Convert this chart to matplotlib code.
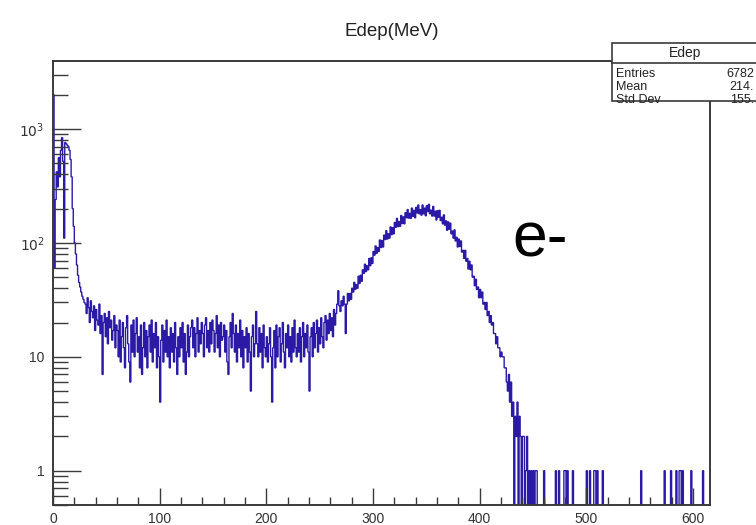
import numpy as np
import matplotlib
matplotlib.use('Agg')
from matplotlib import pyplot as plt
from matplotlib.ticker import FixedLocator, LogLocator, MultipleLocator, NullFormatter
from matplotlib.patches import Rectangle

plt.rcParams['font.family'] = ['Liberation Sans', 'DejaVu Sans']

# Edep histogram, 1 MeV bins from 0 to 616 MeV (counts)
bin_width = 1
x_max = 616

# 0 - 30 MeV: low-energy spike
counts_spike = [2000, 60, 240, 420, 310, 560, 380, 650, 840, 520,
                110, 760, 740, 720, 700, 650, 540, 380, 200, 140,
                100, 80, 64, 52, 45, 41, 37, 34, 32, 30]
# 30 - 60 MeV
counts_fall = [29, 24, 33, 27, 20, 31, 25, 22, 28, 17,
               26, 21, 19, 29, 16, 23, 7, 20, 24, 15,
               22, 13, 25, 18, 21, 14, 17, 23, 12, 19]
# 60 - 100 MeV
counts_flat1 = [17, 10, 21, 9, 15, 20, 12, 8, 18, 23,
                13, 9, 6, 19, 11, 21, 10, 16, 22, 11,
                15, 8, 19, 7, 12, 20, 10, 17, 8, 15,
                19, 11, 21, 9, 16, 12, 20, 8, 15, 10]
# 100 - 200 MeV
counts_flat2 = [4, 14, 19, 9, 17, 11, 21, 10, 15, 8,
                18, 11, 16, 9, 20, 12, 7, 15, 10, 18,
                12, 20, 9, 16, 7, 11, 19, 10, 15, 18,
                21, 12, 18, 10, 16, 22, 11, 17, 13, 20,
                16, 10, 19, 22, 12, 17, 11, 20, 13, 21,
                17, 11, 16, 23, 12, 19, 10, 20, 14, 15,
                19, 11, 17, 9, 7, 15, 20, 12, 24, 16,
                11, 19, 9, 16, 12, 21, 10, 17, 8, 15,
                12, 18, 9, 16, 11, 5, 15, 19, 10, 13,
                25, 13, 10, 18, 11, 16, 8, 19, 12, 10]
# 200 - 266 MeV
counts_flat3 = [15, 9, 13, 18, 10, 4, 12, 17, 8, 19,
                10, 15, 18, 9, 13, 20, 11, 8, 16, 12,
                19, 10, 15, 9, 18, 11, 21, 12, 10, 16,
                11, 18, 9, 15, 20, 10, 16, 12, 19, 11,
                5, 15, 18, 10, 20, 12, 16, 21, 11, 18,
                13, 22, 15, 12, 20, 23, 14, 21, 16, 24,
                17, 22, 15, 26, 19, 24]
# 266 - 450 MeV: electron peak
counts_peak = [29, 38, 28, 25, 31, 28, 34, 29, 16, 29,
               36, 31, 36, 32, 40, 37, 45, 39, 43, 40,
               51, 44, 52, 46, 58, 54, 65, 56, 63, 58,
               73, 63, 74, 66, 84, 78, 94, 81, 91, 84,
               106, 91, 105, 92, 117, 107, 128, 108, 120, 110,
               138, 118, 136, 120, 151, 137, 164, 139, 154, 140,
               174, 148, 169, 147, 184, 166, 196, 165, 182, 164,
               202, 171, 193, 166, 205, 183, 215, 180, 196, 175,
               215, 180, 202, 173, 212, 188, 218, 180, 194, 172,
               209, 172, 190, 159, 192, 168, 193, 157, 168, 147,
               176, 143, 156, 129, 153, 132, 149, 120, 127, 110,
               130, 104, 112, 92, 108, 93, 104, 83, 86, 73,
               86, 69, 73, 59, 69, 58, 64, 50, 51, 42,
               48, 39, 41, 33, 39, 33, 37, 29, 30, 26,
               30, 23, 25, 20, 23, 19, 20, 16, 16, 13,
               15, 12, 12, 10, 11, 10, 10, 8, 8, 6,
               5, 7, 4, 6, 3, 4, 0, 3, 2, 4,
               0, 3, 2, 0, 2, 2, 0, 1, 2, 0,
               1, 0, 1, 0]
# 450 - 616 MeV: sparse tail, single entries at these energies (MeV)
tail_hits = [450, 452, 453, 460, 471, 474, 479, 480, 482, 487,
             500, 503, 507, 508, 510, 515, 551, 573, 579, 584,
             587, 588, 590, 598, 609]

stats_rows = [('Entries', '6782'), ('Mean', '214.'), ('Std Dev', '155.')]

counts_tail = np.zeros(x_max - 450)
for e in tail_hits:
    counts_tail[e - 450] += 1

counts = np.concatenate([counts_spike, counts_fall, counts_flat1, counts_flat2,
                         counts_flat3, counts_peak, counts_tail]).astype(float)
edges = np.arange(0, x_max + bin_width, bin_width)

W, H = 756, 525
fig = plt.figure(figsize=(W / 100, H / 100), dpi=100)
ax = fig.add_axes([53 / W, 1 - 505 / H, (710 - 53) / W, (505 - 61) / H])

ax.set_yscale('log', nonpositive='clip')
ax.stairs(counts, edges, baseline=None, color='#2a1aa6', linewidth=1.0)

ax.set_xlim(0, x_max)
ax.set_ylim(0.5, 3950)

frame_col = '#3a3a3a'
for s in ax.spines.values():
    s.set_color(frame_col)
    s.set_linewidth(1.4)

ax.xaxis.set_major_locator(MultipleLocator(100))
ax.xaxis.set_minor_locator(MultipleLocator(20))
ax.yaxis.set_major_locator(FixedLocator([1, 10, 100, 1000]))
ax.yaxis.set_minor_locator(LogLocator(base=10, subs=np.arange(2, 10)))
ax.yaxis.set_minor_formatter(NullFormatter())
ax.set_yticklabels(['1', '10', r'$10^{2}$', r'$10^{3}$'])
ax.tick_params(axis='both', which='both', direction='in', colors=frame_col,
               labelcolor='#333333', labelsize=10, width=1.0)
ax.tick_params(axis='y', which='major', length=20, pad=6)
ax.tick_params(axis='y', which='minor', length=11)
ax.tick_params(axis='x', which='major', length=12, pad=5)
ax.tick_params(axis='x', which='minor', length=6)
ax.tick_params(right=False, top=False, which='both')

fig.text(392 / W, 1 - 32 / H, 'Edep(MeV)', ha='center', va='center',
         fontsize=13.5, color='#222222')

fig.text(512 / W, 1 - 240 / H, 'e-', ha='left', va='center',
         fontsize=45, color='black')

# stats box (runs past the right edge of the picture)
box = Rectangle((612 / W, 1 - 101 / H), (770 - 612) / W, (101 - 43) / H,
                transform=fig.transFigure, facecolor='white',
                edgecolor=frame_col, linewidth=1.2, zorder=5)
fig.add_artist(box)
fig.add_artist(plt.Line2D([612 / W, 770 / W], [1 - 63 / H, 1 - 63 / H],
                          transform=fig.transFigure, color=frame_col,
                          linewidth=1.2, zorder=6))
fig.text(685 / W, 1 - 53 / H, 'Edep', ha='center', va='center',
         fontsize=10, color='#222222', zorder=7)
for k, (name, val) in enumerate(stats_rows):
    yy = 1 - (74 + 13 * k) / H
    fig.text(616 / W, yy, name, ha='left', va='center', fontsize=9,
             color='#222222', zorder=7)
    fig.text(754 / W, yy, val, ha='right', va='center', fontsize=9,
             color='#222222', zorder=7)

fig.savefig('out.png', dpi=100)
